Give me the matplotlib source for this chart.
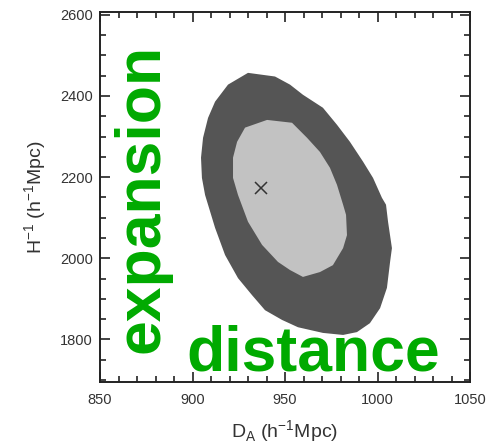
import matplotlib
matplotlib.use('Agg')
import matplotlib.pyplot as plt
from matplotlib.ticker import MultipleLocator

plt.rcParams['font.family'] = ['Liberation Sans', 'DejaVu Sans']

# outer (2-sigma) contour
outer_x = [930.0, 944.6, 952.7, 959.7, 970.5, 978.1, 985.1, 992.2, 997.6, 1002.4,
           1004.6, 1005.7, 1007.8, 1006.8, 1005.1, 1001.4, 995.9, 988.9, 981.4, 970.5,
           957.0, 948.4, 939.2, 932.2, 924.6, 917.6, 912.2, 906.8, 905.1, 904.6,
           905.7, 908.4, 912.2, 919.2]
outer_y = [2457, 2448, 2428, 2403, 2371, 2329, 2287, 2238, 2198, 2149,
           2132, 2090, 2025, 1991, 1927, 1877, 1840, 1818, 1811, 1816,
           1830, 1848, 1872, 1909, 1951, 2008, 2075, 2156, 2198, 2248,
           2297, 2346, 2386, 2428]

# inner (1-sigma) contour
inner_x = [940.3, 953.8, 961.9, 968.9, 974.3, 978.1, 981.4, 983.0, 983.5, 981.4,
           975.9, 968.9, 959.7, 952.7, 946.2, 937.6, 930.0, 924.6, 921.9, 921.9,
           924.1, 928.4]
inner_y = [2341, 2334, 2297, 2262, 2223, 2181, 2132, 2107, 2057, 2025,
           1983, 1966, 1954, 1971, 1991, 2033, 2090, 2156, 2198, 2248,
           2287, 2322]

best_x = [937]
best_y = [2172]

fig = plt.figure(figsize=(4.92, 4.46), dpi=100)
ax = fig.add_axes([100/492, 64/446, 370/492, 370/446])

ax.fill(outer_x, outer_y, color='#555555', lw=0)
ax.fill(inner_x, inner_y, color='#c2c2c2', lw=0)
ax.plot(best_x, best_y, marker='x', color='#333333', ms=9, mew=1.1, ls='none')

ax.set_xlim(850, 1050)
ax.set_ylim(1695, 2607)
ax.set_xticks([850, 900, 950, 1000, 1050])
ax.set_yticks([1800, 2000, 2200, 2400, 2600])
ax.xaxis.set_minor_locator(MultipleLocator(10))
ax.yaxis.set_minor_locator(MultipleLocator(50))
ax.tick_params(which='both', direction='in', top=True, right=True,
               colors='#222222', labelcolor='#333333', labelsize=10.5, width=1.2)
ax.tick_params(which='major', length=7)
ax.tick_params(which='minor', length=4)
ax.tick_params(axis='x', pad=8)
ax.tick_params(axis='y', pad=5)
for s in ax.spines.values():
    s.set_linewidth(1.4)
    s.set_color('#222222')

ax.set_xlabel(r'D$_{\mathregular{A}}$ (h$^{\mathregular{-1}}$Mpc)', fontsize=14, color='#333333', labelpad=8)
ax.set_ylabel(r'H$^{\mathregular{-1}}$ (h$^{\mathregular{-1}}$Mpc)', fontsize=14, color='#333333', labelpad=8)

green = '#00aa00'
ax.text(0.157, 0.495, 'expansion', transform=ax.transAxes, rotation=90,
        rotation_mode='anchor', ha='center', va='baseline',
        fontsize=45, fontweight='bold', color=green)
ax.text(0.577, 0.032, 'distance', transform=ax.transAxes,
        ha='center', va='baseline', fontsize=45, fontweight='bold', color=green)

fig.savefig('out.png', dpi=100)
